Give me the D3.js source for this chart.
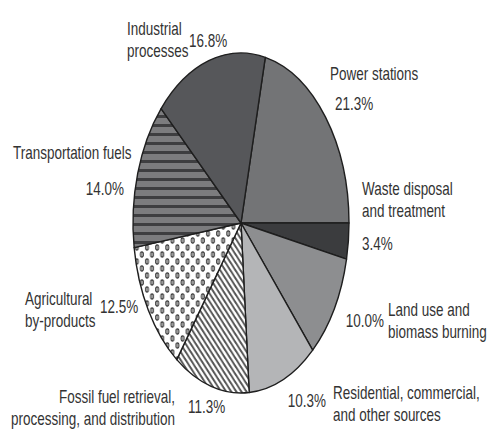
<!DOCTYPE html>
<html>
<head>
<meta charset="utf-8">
<script src="https://cdn.jsdelivr.net/npm/d3@7"></script>
<style>
  body { margin: 0; background: #fff; }
  .lbl { font-family: "Liberation Sans", Arial, sans-serif; font-size: 17.5px; fill: #333; }
</style>
</head>
<body>
<script>
// greenhouse source shares, clockwise from the top
var sources = [
    "Power stations",
    "Waste disposal and treatment",
    "Land use and biomass burning",
    "Residential, commercial, and other sources",
    "Fossil fuel retrieval, processing, and distribution",
    "Agricultural by-products",
    "Transportation fuels",
    "Industrial processes"
];
var shares = [21.3, 3.4, 10.0, 10.3, 11.3, 12.5, 14.0, 16.8];

// how each slice is filled (same order as sources)
var fills = ["#737476", "#3b3c3e", "#8d8e90", "#b4b5b7",
             "url(#hatch)", "url(#dots)", "url(#stripes)", "#56575a"];

// label layout: lines of the name, where they sit, and where the % goes
var labelLayout = [
    {lines: ["Power stations"], x: 330, y: 80, anchor: "start", px: 335, py: 110, panchor: "start"},
    {lines: ["Waste disposal", "and treatment"], x: 362, y: 195, anchor: "start", px: 362, py: 250, panchor: "start"},
    {lines: ["Land use and", "biomass burning"], x: 388, y: 316, anchor: "start", px: 384, py: 327, panchor: "end"},
    {lines: ["Residential, commercial,", "and other sources"], x: 333, y: 399, anchor: "start", px: 326, py: 407, panchor: "end"},
    {lines: ["Fossil fuel retrieval,", "processing, and distribution"], x: 175, y: 403, anchor: "end", px: 188, py: 413, panchor: "start"},
    {lines: ["Agricultural", "by-products"], x: 25, y: 305, anchor: "start", px: 100, py: 313, panchor: "start"},
    {lines: ["Transportation fuels"], x: 13, y: 159, anchor: "start", px: 124, py: 195, panchor: "end"},
    {lines: ["Industrial", "processes"], x: 127, y: 35, anchor: "start", px: 189, py: 47, panchor: "start"}
];

var w = 488, h = 431;
var cx = 241, cy = 223, ry = 170, rx = 108;
var squeeze = 0.77;   // the printed type is narrow

window.onload = function(){

    var svg = d3.select("body")
        .append("svg")
        .attr("width", w)
        .attr("height", h);

    var defs = svg.append("defs");

    // horizontal stripes for transportation
    var stripes = defs.append("pattern")
        .attr("id", "stripes")
        .attr("patternUnits", "userSpaceOnUse")
        .attr("width", 20)
        .attr("height", 9);
    stripes.append("rect").attr("width", 20).attr("height", 9).attr("fill", "#7c7c7e");
    stripes.append("rect").attr("y", 0).attr("width", 20).attr("height", 3).attr("fill", "#3e3e40");

    // diagonal hatching for fossil fuel
    var hatch = defs.append("pattern")
        .attr("id", "hatch")
        .attr("patternUnits", "userSpaceOnUse")
        .attr("width", 8)
        .attr("height", 8);
    hatch.append("rect").attr("width", 8).attr("height", 8).attr("fill", "#fff");
    hatch.append("path")
        .attr("d", "M-2,-2 L10,10 M-2,6 L2,10 M6,-2 L10,2")
        .attr("stroke", "#555")
        .attr("stroke-width", 2.6);

    // small rings for agricultural
    var dots = defs.append("pattern")
        .attr("id", "dots")
        .attr("patternUnits", "userSpaceOnUse")
        .attr("width", 16)
        .attr("height", 14);
    dots.append("rect").attr("width", 16).attr("height", 14).attr("fill", "#fff");
    [[4, 3.5], [12, 10.5]].forEach(function(p){
        dots.append("circle")
            .attr("cx", p[0]).attr("cy", p[1]).attr("r", 2.6)
            .attr("fill", "#9a9a9a")
            .attr("stroke", "#333")
            .attr("stroke-width", 1.1);
    });

    // pie, squeezed horizontally like the printed figure
    var pie = d3.pie()
        .sort(null)
        .startAngle(13 * Math.PI / 180)
        .endAngle(13 * Math.PI / 180 + 2 * Math.PI);

    var arc = d3.arc()
        .innerRadius(0)
        .outerRadius(ry);

    var pieG = svg.append("g")
        .attr("transform", "translate(" + cx + "," + cy + ") scale(" + (rx / ry) + ",1)");

    pieG.selectAll(".slice")
        .data(pie(shares))
        .enter()
        .append("path")
        .attr("class", "slice")
        .attr("d", arc)
        .attr("fill", function(d, i){ return fills[i]; })
        .attr("stroke", "#1e1e1e")
        .attr("stroke-width", 1.4)
        .attr("vector-effect", "non-scaling-stroke")
        .attr("stroke-linejoin", "round");

    // labels
    var fmt = d3.format(".1f");
    var lab = svg.selectAll(".labelG")
        .data(labelLayout)
        .enter()
        .append("g")
        .attr("class", "labelG");

    lab.each(function(d, i){
        var g = d3.select(this);
        d.lines.forEach(function(line, k){
            g.append("text")
                .attr("class", "lbl")
                .attr("text-anchor", d.anchor)
                .attr("transform", "translate(" + d.x + "," + (d.y + k * 22) + ") scale(" + squeeze + ",1)")
                .text(line);
        });
        g.append("text")
            .attr("class", "lbl")
            .attr("text-anchor", d.panchor)
            .attr("transform", "translate(" + d.px + "," + d.py + ") scale(" + squeeze + ",1)")
            .text(fmt(shares[i]) + "%");
    });
};
</script>
</body>
</html>
